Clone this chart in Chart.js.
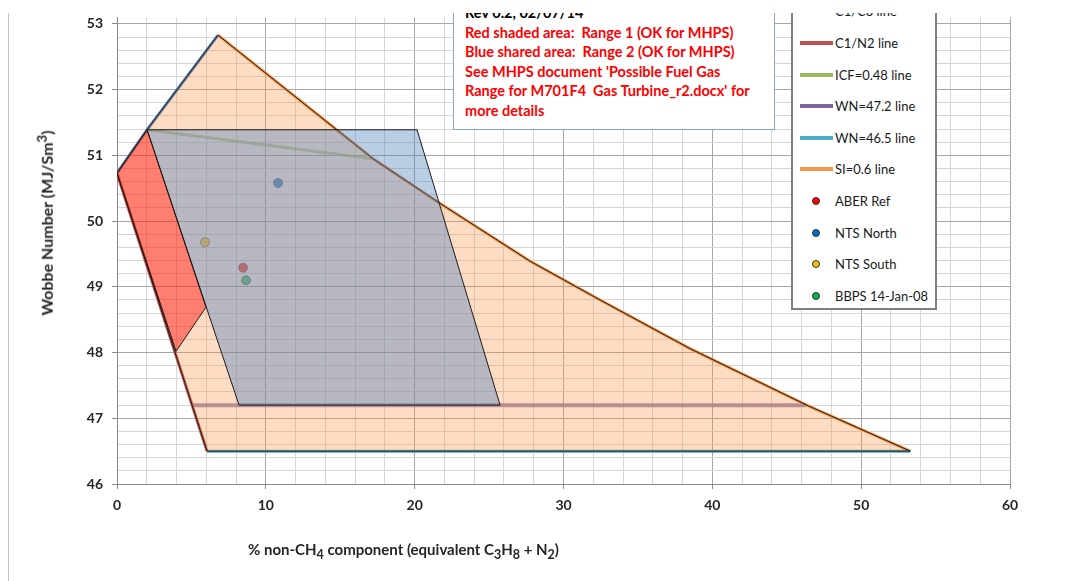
<!DOCTYPE html>
<html>
<head>
<meta charset="utf-8">
<script src="https://cdn.jsdelivr.net/npm/chart.js@4.4.0/dist/chart.umd.min.js"></script>
<style>
    html, body { margin: 0; padding: 0; background: #fff; overflow: hidden; }
    body { width: 1090px; height: 581px; position: relative; font-family: Lato, 'Noto Sans', sans-serif; }
    #wrap { position: absolute; left: 0; top: 0; width: 1090px; height: 581px; }
    #topMask { position: absolute; left: 0; top: 0; width: 1090px; height: 13px; background: #fff; z-index: 10; }
    #frame { position: absolute; left: 8px; top: 13px; height: 568px; border-left: 1px solid #c4c4c4; }
    #note {
        position: absolute; left: 453px; top: -10px; width: 322px; height: 140px;
        box-sizing: border-box; border: 1px solid #8ea7c9; background: #fff;
        padding: 12px 0 0 11px; font-weight: bold; font-size: 14.5px; line-height: 19.6px;
        color: #ff0000; white-space: pre; z-index: 5;
    }
    #note .rev { color: #000; }
    #legend {
        position: absolute; left: 791px; top: -20px; width: 146px; height: 330px;
        box-sizing: border-box; border: 2px solid #7f7f7f; background: #fff; z-index: 5;
    }
    .item { position: absolute; left: 0; height: 20px; line-height: 20px; font-size: 13px; color: #1a1a1a; white-space: nowrap; }
    .swatch { position: absolute; left: 7px; top: 8px; width: 33px; height: 4px; }
    .dot { position: absolute; left: 19px; top: 6px; width: 8px; height: 8px; border-radius: 50%; box-sizing: border-box; border: 1px solid #333; }
    .item span { position: absolute; left: 42px; }
    #yTitle {
        position: absolute; left: 45px; top: 223px; transform: translate(-50%, -50%) rotate(-90deg);
        font-weight: bold; font-size: 16px; color: #262626; white-space: nowrap;
    }
    #xTitle {
        position: absolute; left: 248px; top: 540px; font-weight: bold; font-size: 15px;
        color: #262626; white-space: nowrap;
    }
</style>
</head>
<body>
<div id="wrap"><canvas id="wobbe" width="1090" height="581"></canvas></div>
<div id="frame"></div>
<div id="note"><span class="rev">Rev 0.2, 02/07/14</span>
Red shaded area:  Range 1 (OK for MHPS)
Blue shared area:  Range 2 (OK for MHPS)
See MHPS document 'Possible Fuel Gas
Range for M701F4  Gas Turbine_r2.docx' for
more details</div>
<div id="legend"></div>
<div id="yTitle">Wobbe Number (MJ/Sm<sup>3</sup>)</div>
<div id="xTitle">% non-CH<sub>4</sub> component (equivalent C<sub>3</sub>H<sub>8</sub> + N<sub>2</sub>)</div>
<div id="topMask"></div>

<script>
// Lignes limites (x = % non-CH4, y = indice de Wobbe)
const c1c3X = [0, 2.02, 6.79];
const c1c3Y = [50.73, 51.39, 52.83];
const c1n2X = [0, 6.05];
const c1n2Y = [50.73, 46.5];
const icfX = [2.02, 17.2];
const icfY = [51.39, 50.95];
const wn472X = [5.05, 46.3];
const wn472Y = [47.2, 47.2];
const wn465X = [6.05, 53.3];
const wn465Y = [46.5, 46.5];
const siX = [6.79, 17.2, 21.5, 27.76, 32.46, 38.5, 46.44, 53.3];
const siY = [52.83, 50.95, 50.30, 49.39, 48.80, 48.06, 47.19, 46.50];

// Zones ombrées
const range1X = [0, 2.02, 5.98, 3.97];
const range1Y = [50.73, 51.39, 48.69, 48.02];
const range2X = [2.02, 20.16, 25.74, 8.2];
const range2Y = [51.39, 51.39, 47.2, 47.2];

// Gaz mesurés
const gasNames = ['ABER Ref', 'NTS North', 'NTS South', 'BBPS 14-Jan-08'];
const gasX = [8.47, 10.82, 5.91, 8.67];
const gasY = [49.29, 50.58, 49.68, 49.10];
const gasColors = ['#ff0000', '#0070c0', '#ffc000', '#00b050'];

const lineNames = ['C1/C3 line', 'C1/N2 line', 'ICF=0.48 line', 'WN=47.2 line', 'WN=46.5 line', 'SI=0.6 line'];
const lineColors = ['#4f81bd', '#c0504d', '#9bbb59', '#8064a2', '#4bacc6', '#f79646'];
// dans le graphique certaines lignes sont plus pâles (sous les zones)
const lineAlpha = ['ff', 'ff', 'a0', 'b8', 'ff', 'ff'];

const pts = (xs, ys) => xs.map((x, i) => ({ x: x, y: ys[i] }));
const closed = arr => arr.concat([arr[0]]);
const onStep = (v, s) => Math.abs(v / s - Math.round(v / s)) < 1e-6;

// Enveloppe orange : C1/C3 puis SI puis WN=46.5 et retour par C1/N2
const envelope = pts(c1c3X, c1c3Y)
    .concat(pts(siX, siY).slice(1))
    .concat(pts(wn465X, wn465Y).slice(0, 1));

const lineData = [
    pts(c1c3X, c1c3Y), pts(c1n2X, c1n2Y), pts(icfX, icfY),
    pts(wn472X, wn472Y), pts(wn465X, wn465Y), pts(siX, siY)
];

const datasets = lineData.map((d, i) => ({
    label: lineNames[i],
    data: d,
    showLine: true,
    borderColor: lineColors[i] + lineAlpha[i],
    borderWidth: i === 3 ? 4 : 3,
    pointRadius: 0,
    fill: false,
    order: 10
}));

datasets.push({
    label: 'gas',
    data: pts(gasX, gasY),
    pointRadius: 4.5,
    pointBackgroundColor: gasColors.map(c => c + 'c0'),
    pointBorderColor: 'rgba(60,60,60,0.6)',
    pointBorderWidth: 1,
    order: 9
});

datasets.push({
    label: 'SI area',
    data: closed(envelope),
    showLine: true,
    borderColor: '#1a1a1a',
    borderWidth: 1,
    backgroundColor: 'rgba(247,150,70,0.32)',
    pointRadius: 0,
    fill: 'shape',
    order: 5
});
datasets.push({
    label: 'Range 2',
    data: closed(pts(range2X, range2Y)),
    showLine: true,
    borderColor: '#1a1a1a',
    borderWidth: 1,
    backgroundColor: 'rgba(79,129,189,0.4)',
    pointRadius: 0,
    fill: 'shape',
    order: 4
});
datasets.push({
    label: 'Range 1',
    data: closed(pts(range1X, range1Y)),
    showLine: true,
    borderColor: '#1a1a1a',
    borderWidth: 1,
    backgroundColor: 'rgba(255,0,0,0.43)',
    pointRadius: 0,
    fill: 'shape',
    order: 3
});

const tickFont = { family: 'Lato', weight: 'bold', size: 14 };

new Chart(document.getElementById('wobbe'), {
    type: 'scatter',
    data: { datasets: datasets },
    options: {
        responsive: false,
        animation: false,
        devicePixelRatio: 1,
        layout: { padding: { left: 0, top: 13, right: 80, bottom: 0 } },
        plugins: { legend: { display: false }, tooltip: { enabled: false } },
        scales: {
            x: {
                type: 'linear', min: 0, max: 60,
                afterFit: s => { s.height = 97; },
                border: { color: '#8a8a8a' },
                grid: {
                    tickLength: 5,
                    color: c => onStep(c.tick.value, 10) ? '#a6a6a6' : '#d6d6d6',
                    tickColor: c => onStep(c.tick.value, 10) ? '#8a8a8a' : 'transparent'
                },
                ticks: {
                    stepSize: 2, autoSkip: false, maxRotation: 0, padding: 8,
                    color: '#262626', font: tickFont,
                    callback: v => onStep(v, 10) ? String(Math.round(v)) : ''
                }
            },
            y: {
                type: 'linear', min: 46, max: 53.1,
                afterFit: s => { s.width = 117; },
                border: { color: '#8a8a8a' },
                grid: {
                    tickLength: 5,
                    color: c => onStep(c.tick.value, 1) ? '#a6a6a6' : (onStep(c.tick.value, 0.2) ? '#d6d6d6' : 'transparent'),
                    tickColor: c => onStep(c.tick.value, 1) ? '#8a8a8a' : 'transparent'
                },
                ticks: {
                    stepSize: 0.2, autoSkip: false, padding: 9, includeBounds: false,
                    color: '#262626', font: tickFont,
                    callback: v => onStep(v, 1) ? String(Math.round(v)) : ''
                }
            }
        }
    }
});

// Légende HTML (haut coupé comme dans l'original)
const legend = document.getElementById('legend');
const rows = lineNames.map((n, i) => ({ name: n, color: lineColors[i], dot: false }))
    .concat(gasNames.map((n, i) => ({ name: n, color: gasColors[i], dot: true })));
rows.forEach((r, i) => {
    const item = document.createElement('div');
    item.className = 'item';
    item.style.top = (11.4 + 31.6 * i + 18 - 10) + 'px';
    item.style.width = '140px';
    const mark = document.createElement('div');
    mark.className = r.dot ? 'dot' : 'swatch';
    mark.style.background = r.color;
    const label = document.createElement('span');
    label.textContent = r.name;
    item.appendChild(mark);
    item.appendChild(label);
    legend.appendChild(item);
});
</script>
</body>
</html>
